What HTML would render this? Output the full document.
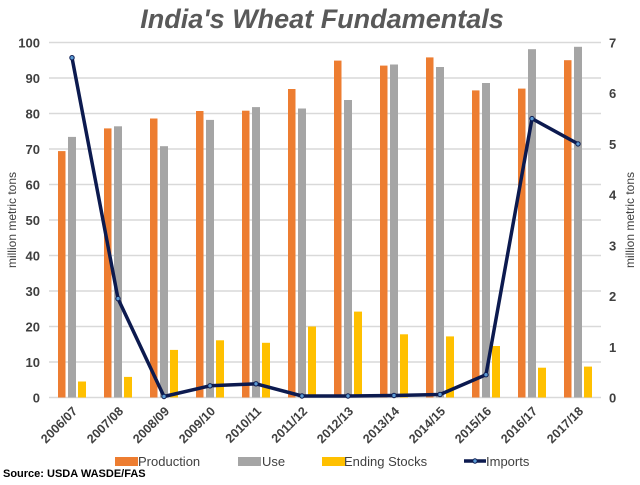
<!DOCTYPE html><html><head><style>body{margin:0;background:#fff}</style></head><body>
<svg width="640" height="480" xmlns="http://www.w3.org/2000/svg" font-family="Liberation Sans, sans-serif">
<text x="322" y="28" text-anchor="middle" font-size="27" font-weight="bold" font-style="italic" fill="#595959">India's Wheat Fundamentals</text>
<g stroke="#d9d9d9" stroke-width="1.5">
<line x1="49" x2="601" y1="397.5" y2="397.5"/><line x1="49" x2="601" y1="362" y2="362"/><line x1="49" x2="601" y1="326.5" y2="326.5"/><line x1="49" x2="601" y1="291" y2="291"/><line x1="49" x2="601" y1="255.5" y2="255.5"/><line x1="49" x2="601" y1="220" y2="220"/><line x1="49" x2="601" y1="184.5" y2="184.5"/><line x1="49" x2="601" y1="149" y2="149"/><line x1="49" x2="601" y1="113.5" y2="113.5"/><line x1="49" x2="601" y1="78" y2="78"/><line x1="49" x2="601" y1="42.5" y2="42.5"/>
</g>
<g font-size="13" font-weight="bold" fill="#404040" text-anchor="end">
<text x="40" y="402.5">0</text><text x="40" y="367">10</text><text x="40" y="331.5">20</text><text x="40" y="296">30</text><text x="40" y="260.5">40</text><text x="40" y="225">50</text><text x="40" y="189.5">60</text><text x="40" y="154">70</text><text x="40" y="118.5">80</text><text x="40" y="83">90</text><text x="40" y="47.5">100</text>
</g>
<g font-size="13" font-weight="bold" fill="#404040">
<text x="609" y="402.5">0</text><text x="609" y="351.8">1</text><text x="609" y="301.1">2</text><text x="609" y="250.4">3</text><text x="609" y="199.7">4</text><text x="609" y="149">5</text><text x="609" y="98.2">6</text><text x="609" y="47.5">7</text>
</g>
<g fill="#ed7d31">
<rect x="58" y="151.1" width="7.5" height="246.4"/><rect x="104" y="128.4" width="7.5" height="269.1"/><rect x="150" y="118.5" width="7.5" height="279"/><rect x="196" y="111" width="7.5" height="286.5"/><rect x="242" y="110.7" width="7.5" height="286.8"/><rect x="288" y="89" width="7.5" height="308.5"/><rect x="334" y="60.6" width="7.5" height="336.9"/><rect x="380" y="65.6" width="7.5" height="331.9"/><rect x="426" y="57.4" width="7.5" height="340.1"/><rect x="472" y="90.4" width="7.5" height="307.1"/><rect x="518" y="88.6" width="7.5" height="308.9"/><rect x="564" y="60.2" width="7.5" height="337.3"/>
</g>
<g fill="#a5a5a5">
<rect x="68" y="136.9" width="8" height="260.6"/><rect x="114" y="126.3" width="8" height="271.2"/><rect x="160" y="146.2" width="8" height="251.3"/><rect x="206" y="119.9" width="8" height="277.6"/><rect x="252" y="107.1" width="8" height="290.4"/><rect x="298" y="108.5" width="8" height="289"/><rect x="344" y="100" width="8" height="297.5"/><rect x="390" y="64.5" width="8" height="333"/><rect x="436" y="67" width="8" height="330.5"/><rect x="482" y="83" width="8" height="314.5"/><rect x="528" y="49.2" width="8" height="348.3"/><rect x="574" y="46.8" width="8" height="350.7"/>
</g>
<g fill="#ffc000">
<rect x="78" y="381.5" width="8" height="16"/><rect x="124" y="376.9" width="8" height="20.6"/><rect x="170" y="349.9" width="8" height="47.6"/><rect x="216" y="340.3" width="8" height="57.2"/><rect x="262" y="342.8" width="8" height="54.7"/><rect x="308" y="326.5" width="8" height="71"/><rect x="354" y="311.6" width="8" height="85.9"/><rect x="400" y="334.3" width="8" height="63.2"/><rect x="446" y="336.4" width="8" height="61.1"/><rect x="492" y="346" width="8" height="51.5"/><rect x="538" y="367.7" width="8" height="29.8"/><rect x="584" y="366.6" width="8" height="30.9"/>
</g>
<polyline points="72,57.7 118,298.6 164,396.5 210,385.8 256,383.8 302,396 348,396 394,395.5 440,394.5 486,374.7 532,118.6 578,143.9" fill="none" stroke="#0c1a4f" stroke-width="3.5" stroke-linejoin="round"/>
<g fill="#5b9bd5" stroke="#0c1a4f" stroke-width="1">
<circle cx="72" cy="57.7" r="2.2"/><circle cx="118" cy="298.6" r="2.2"/><circle cx="164" cy="396.5" r="2.2"/><circle cx="210" cy="385.8" r="2.2"/><circle cx="256" cy="383.8" r="2.2"/><circle cx="302" cy="396" r="2.2"/><circle cx="348" cy="396" r="2.2"/><circle cx="394" cy="395.5" r="2.2"/><circle cx="440" cy="394.5" r="2.2"/><circle cx="486" cy="374.7" r="2.2"/><circle cx="532" cy="118.6" r="2.2"/><circle cx="578" cy="143.9" r="2.2"/>
</g>
<g font-size="12.5" font-weight="bold" fill="#404040" text-anchor="end">
<text transform="translate(78,412) rotate(-45)">2006/07</text><text transform="translate(124,412) rotate(-45)">2007/08</text><text transform="translate(170,412) rotate(-45)">2008/09</text><text transform="translate(216,412) rotate(-45)">2009/10</text><text transform="translate(262,412) rotate(-45)">2010/11</text><text transform="translate(308,412) rotate(-45)">2011/12</text><text transform="translate(354,412) rotate(-45)">2012/13</text><text transform="translate(400,412) rotate(-45)">2013/14</text><text transform="translate(446,412) rotate(-45)">2014/15</text><text transform="translate(492,412) rotate(-45)">2015/16</text><text transform="translate(538,412) rotate(-45)">2016/17</text><text transform="translate(584,412) rotate(-45)">2017/18</text>
</g>
<text transform="translate(16,220) rotate(-90)" text-anchor="middle" font-size="12" fill="#404040">million metric tons</text>
<text transform="translate(634,220) rotate(-90)" text-anchor="middle" font-size="12" fill="#404040">million metric tons</text>
<rect x="115" y="457" width="23" height="9" fill="#ed7d31"/><text x="138" y="466" font-size="13" fill="#404040">Production</text>
<rect x="238" y="457" width="23" height="9" fill="#a5a5a5"/><text x="262" y="466" font-size="13" fill="#404040">Use</text>
<rect x="322" y="457" width="23" height="9" fill="#ffc000"/><text x="344" y="466" font-size="13" fill="#404040">Ending Stocks</text>
<line x1="464" x2="486" y1="461" y2="461" stroke="#0c1a4f" stroke-width="3.5"/><circle cx="475" cy="461" r="2.2" fill="#5b9bd5" stroke="#0c1a4f"/><text x="486" y="466" font-size="13" fill="#404040">Imports</text>
<text x="3" y="477" font-size="11" font-weight="bold" fill="#000">Source: USDA WASDE/FAS</text>
</svg></body></html>
